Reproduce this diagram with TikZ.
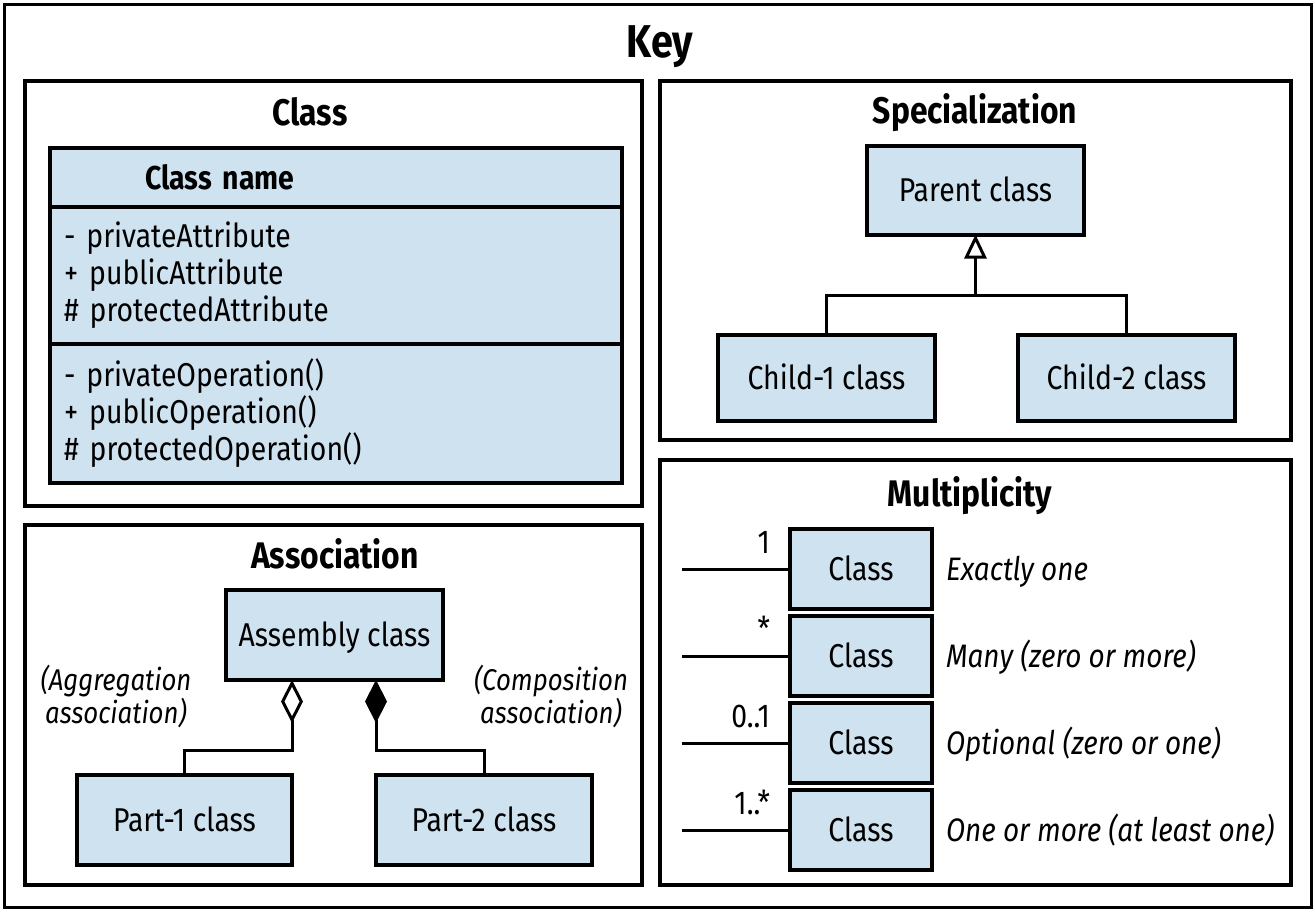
\documentclass[tikz,border=0pt]{standalone}
\usepackage{fontspec}
\setmainfont{Fira Sans}[FakeStretch=0.86]
\usetikzlibrary{arrows.meta,positioning,calc}
\definecolor{umlblue}{RGB}{207,226,240}

\begin{document}
\begin{tikzpicture}[
  x=1pt, y=-1pt,
  line width=3pt,
  every node/.style={font=\fontsize{33}{37}\selectfont, inner sep=0pt, outer sep=0pt},
  panel/.style={draw, line width=4pt, anchor=north west},
  umlbox/.style={draw, line width=4pt, fill=umlblue, minimum width=217pt, minimum height=89pt,
                 text height=25pt, text depth=2pt},
  classpart/.style={draw, line width=4pt, fill=umlblue, anchor=north west, text width=544pt,
                    inner xsep=14pt, align=left},
  title/.style={font=\fontsize{37}{40}\selectfont\bfseries, anchor=base},
  note/.style={font=\fontsize{30}{33}\selectfont\itshape, align=center},
  desc/.style={font=\fontsize{32.5}{37}\selectfont\itshape, text height=25pt, text depth=2pt},
  mult/.style={anchor=base east},
]
\useasboundingbox (0,0) rectangle (1315,911);

% frames
\node[panel, line width=3pt, minimum width=1307pt, minimum height=903pt] (key) at (4.5,4.5) {};
\node[panel, minimum width=617pt, minimum height=425pt] (classpanel) at (25,81) {};
\node[panel, minimum width=631pt, minimum height=359pt] (specpanel) at (660,81) {};
\node[panel, minimum width=617pt, minimum height=360pt] (assocpanel) at (25,525) {};
\node[panel, minimum width=631pt, minimum height=425pt] (multpanel) at (660,460) {};

\node[title, font=\fontsize{46}{50}\selectfont\bfseries] (keytitle) at (660,57) {Key};
\node[title] (classtitle) at (310,125) {Class};
\node[title] (spectitle) at (975,123) {Specialization};
\node[title] (assoctitle) at (335,568) {Association};
\node[title] (multtitle) at (970,506) {Multiplicity};

% class
\node[classpart, minimum height=59pt, font=\fontsize{33}{37}\selectfont\bfseries] (cname) at (50,148)
  {\hspace*{81pt}Class name};
\node[classpart, minimum height=137pt, below=0pt of cname] (cattr)
  {- privateAttribute\\+ publicAttribute\\\# protectedAttribute};
\node[classpart, minimum height=139pt, below=0pt of cattr] (cops)
  {- privateOperation()\\+ publicOperation()\\\# protectedOperation()};

% specialization
\node[umlbox] (parent) at (975.5,190) {Parent class};
\node[umlbox, minimum height=86pt] (child1) at (826.5,378) {Child-1 class};
\node[umlbox, minimum height=86pt] (child2) at (1126.5,378) {Child-2 class};
\coordinate (spjoin) at (975.5,295);
\draw (child1.north) |- (spjoin);
\draw (child2.north) |- (spjoin);
\draw[-{Triangle[fill=white, length=24pt, width=22pt]}] (spjoin) -- (parent.south);

% association
\node[umlbox, minimum height=90pt] (assembly) at (334.5,635) {Assembly class};
\node[umlbox, minimum width=215pt, minimum height=90pt] (part1) at (184.5,820) {Part-1 class};
\node[umlbox, minimum width=216pt, minimum height=90pt] (part2) at (484,820) {Part-2 class};
\draw[{Diamond[fill=white, length=43pt, width=22pt]}-] (assembly.south -| part1.east)
  -- ++(0,70) -| (part1.north);
\draw[{Diamond[length=43pt, width=22pt]}-] (assembly.south -| part2.west)
  -- ++(0,70) -| (part2.north);
\node[note] (aggnote) at (116,696) {(Aggregation\\association)};
\node[note] (compnote) at (551,696) {(Composition\\association)};

% multiplicity
\node[umlbox, minimum width=142pt, minimum height=80pt] (m1) at (861,569) {Class};
\node[umlbox, minimum width=142pt, minimum height=80pt, below=7pt of m1] (m2) {Class};
\node[umlbox, minimum width=142pt, minimum height=80pt, below=7pt of m2] (m3) {Class};
\node[umlbox, minimum width=142pt, minimum height=80pt, below=7pt of m3] (m4) {Class};
\foreach \m/\lab in {m1/1, m2/*, m3/0..1, m4/1..*} {
  \draw (\m.west) -- ++(-108,0);
  \node[mult] (\m lab) at ($(\m.west)+(-20,-16)$) {\lab};
}
\node[desc, right=14pt of m1] (d1) {Exactly one};
\node[desc, right=14pt of m2] (d2) {Many (zero or more)};
\node[desc, right=14pt of m3] (d3) {Optional (zero or one)};
\node[desc, right=14pt of m4] (d4) {One or more (at least one)};
\end{tikzpicture}
\end{document}
